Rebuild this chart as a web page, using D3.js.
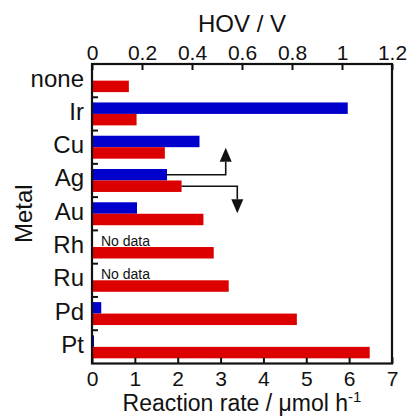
<!DOCTYPE html>
<html>
<head>
<meta charset="utf-8">
<script src="https://cdn.jsdelivr.net/npm/d3@7"></script>
<style>
  body { margin: 0; background: #fff; }
  text { font-family: "Liberation Sans", Arial, sans-serif; fill: #111; }
</style>
</head>
<body>
<svg id="chart"></svg>
<script>
// values
var metals = ["none", "Ir", "Cu", "Ag", "Au", "Rh", "Ru", "Pd", "Pt"];
var rate = [0.86, 1.04, 1.70, 2.09, 2.60, 2.84, 3.19, 4.78, 6.48];   // umol h-1, bottom axis
var hov = [0, 1.023, 0.43, 0.30, 0.18, null, null, 0.037, 0.008];     // V, top axis (null = no data)
var rateTicks = [0, 1, 2, 3, 4, 5, 6, 7];
var hovTicks = [0, 0.2, 0.4, 0.6, 0.8, 1, 1.2];

var width = 411, height = 416;
var plotL = 92, plotR = 392, plotT = 64, plotB = 363.5;

var svg = d3.select("#chart").attr("width", width).attr("height", height);

var x = d3.scaleLinear().domain([0, 7]).range([plotL, plotR]);
var xh = d3.scaleLinear().domain([0, 1.2]).range([plotL, plotR]);
var y = d3.scaleBand().domain(metals).range([plotT, plotB]);
var sub = d3.scaleBand().domain(["hov", "rate"]).range([0, y.bandwidth()]).paddingOuter(0.45);

var red = "#dd0000", blue = "#0000cc";

// bars
var g = svg.append("g");
metals.forEach(function (m, i) {
  if (hov[i] != null && hov[i] > 0) {
    g.append("rect")
      .attr("x", xh(0)).attr("y", y(m) + sub("hov"))
      .attr("width", xh(hov[i]) - xh(0)).attr("height", sub.bandwidth())
      .attr("fill", blue);
  }
  g.append("rect")
    .attr("x", x(0)).attr("y", y(m) + sub("rate"))
    .attr("width", x(rate[i]) - x(0)).attr("height", sub.bandwidth())
    .attr("fill", red);
  if (hov[i] == null) {
    g.append("text")
      .attr("x", x(0) + 9).attr("y", y(m) + sub("hov") + sub.bandwidth() - 1)
      .style("font-size", "14px")
      .text("No data");
  }
});

// arrows pointing from Ag bars to their axes
var ai = metals.indexOf("Ag");
var arrowData = [
  { x0: xh(hov[ai]), y0: y("Ag") + sub("hov") + sub.bandwidth() / 2, x1: x(3.12), dir: -1 },
  { x0: x(rate[ai]), y0: y("Ag") + sub("rate") + sub.bandwidth() / 2, x1: x(3.39), dir: 1 }
];
arrowData.forEach(function (a) {
  var yBase = a.y0 + a.dir * 13;
  var yTip = a.y0 + a.dir * 27;
  svg.append("path")
    .attr("d", "M" + a.x0 + "," + a.y0 + "H" + a.x1 + "V" + yBase)
    .attr("fill", "none").attr("stroke", "#111").attr("stroke-width", 1.6);
  svg.append("path")
    .attr("d", "M" + (a.x1 - 6) + "," + yBase + "L" + (a.x1 + 6) + "," + yBase + "L" + a.x1 + "," + yTip + "Z")
    .attr("fill", "#111");
});

// axes
var topAxis = svg.append("g").attr("transform", "translate(0," + plotT + ")")
  .call(d3.axisTop(xh).tickValues(hovTicks).tickFormat(d3.format("~g"))
    .tickSizeInner(-6).tickSizeOuter(0).tickPadding(4));
var botAxis = svg.append("g").attr("transform", "translate(0," + plotB + ")")
  .call(d3.axisBottom(x).tickValues(rateTicks).tickFormat(d3.format("d"))
    .tickSizeInner(-6).tickSizeOuter(0).tickPadding(8));
[topAxis, botAxis].forEach(function (ax) {
  ax.select(".domain").remove();
  ax.selectAll(".tick line").attr("stroke", "#111").attr("stroke-width", 2);
  ax.selectAll(".tick text").attr("fill", "#111")
    .style("font-size", "21px").style("font-family", "Liberation Sans, Arial, sans-serif");
});

// category ticks at band boundaries
svg.append("g").selectAll("line").data(metals.slice(1)).join("line")
  .attr("x1", plotL).attr("x2", plotL + 6)
  .attr("y1", function (d) { return y(d); }).attr("y2", function (d) { return y(d); })
  .attr("stroke", "#111").attr("stroke-width", 2);

// category labels
svg.append("g").selectAll("text").data(metals).join("text")
  .attr("x", plotL - 8)
  .attr("y", function (d) { return y(d) + y.bandwidth() / 2 + 6; })
  .attr("text-anchor", "end")
  .style("font-size", "24px")
  .text(function (d) { return d; });

// frame
svg.append("rect")
  .attr("x", plotL).attr("y", plotT).attr("width", plotR - plotL).attr("height", plotB - plotT)
  .attr("fill", "none").attr("stroke", "#111").attr("stroke-width", 2.2);

// titles
svg.append("text").attr("x", (plotL + plotR) / 2).attr("y", 32)
  .attr("text-anchor", "middle").style("font-size", "24px").text("HOV / V");

var xt = svg.append("text").attr("x", (plotL + plotR) / 2).attr("y", 411)
  .attr("text-anchor", "middle").style("font-size", "23px");
xt.append("tspan").text("Reaction rate / \u03bcmol h");
xt.append("tspan").attr("dy", -9).style("font-size", "15px").text("-1");

svg.append("text")
  .attr("transform", "translate(32," + (plotT + plotB) / 2 + ") rotate(-90)")
  .attr("text-anchor", "middle").style("font-size", "24px").text("Metal");
</script>
</body>
</html>
